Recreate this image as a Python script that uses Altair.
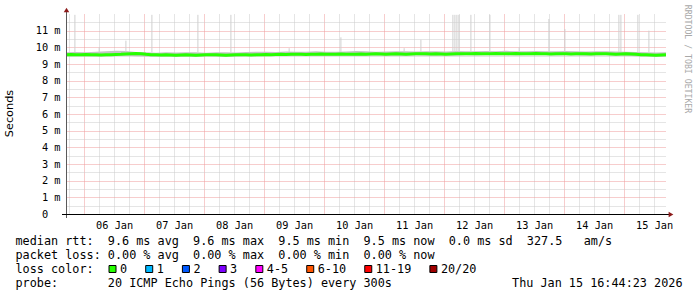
import json
import altair as alt
import pandas as pd

# ---------------- data ----------------
# time axis: hours after 2026-01-05 00:00; graph spans 10 days ending Jan 15 16:44
T_END = 256.74
T_START = T_END - 240.0

# median RTT (ms), one reading every 2 h from T_START
median_ms = [
    9.56, 9.57, 9.55, 9.56, 9.57, 9.56, 9.55, 9.54, 9.55, 9.56,
    9.57, 9.58, 9.60, 9.62, 9.63, 9.61, 9.58, 9.56, 9.55, 9.54,
    9.55, 9.54, 9.53, 9.54, 9.55, 9.54, 9.53, 9.54, 9.55, 9.56,
    9.55, 9.54, 9.53, 9.54, 9.55, 9.56, 9.55, 9.54, 9.55, 9.56,
    9.57, 9.56, 9.57, 9.58, 9.57, 9.58, 9.59, 9.58, 9.57, 9.58,
    9.59, 9.60, 9.59, 9.58, 9.59, 9.60, 9.59, 9.58, 9.59, 9.60,
    9.59, 9.60, 9.61, 9.60, 9.59, 9.60, 9.61, 9.60, 9.59, 9.60,
    9.61, 9.62, 9.61, 9.60, 9.61, 9.60, 9.59, 9.60, 9.61, 9.62,
    9.61, 9.62, 9.63, 9.62, 9.61, 9.62, 9.63, 9.62, 9.61, 9.62,
    9.63, 9.62, 9.61, 9.62, 9.63, 9.62, 9.61, 9.60, 9.61, 9.62,
    9.61, 9.60, 9.61, 9.62, 9.61, 9.60, 9.61, 9.62, 9.61, 9.60,
    9.59, 9.60, 9.61, 9.60, 9.58, 9.56, 9.55, 9.54, 9.53, 9.54,
    9.55,
]

# smoke band (ms), one reading every 4 h from T_START
smoke_lo = [
    9.46, 9.47, 9.46, 9.45, 9.47, 9.48, 9.50, 9.47, 9.45, 9.44,
    9.45, 9.44, 9.45, 9.44, 9.46, 9.45, 9.44, 9.45, 9.47, 9.46,
    9.48, 9.49, 9.48, 9.50, 9.49, 9.50, 9.49, 9.50, 9.51, 9.50,
    9.50, 9.51, 9.50, 9.49, 9.50, 9.51, 9.50, 9.49, 9.51, 9.50,
    9.52, 9.51, 9.52, 9.53, 9.52, 9.51, 9.52, 9.53, 9.52, 9.51,
    9.52, 9.51, 9.50, 9.51, 9.52, 9.50, 9.49, 9.47, 9.45, 9.44,
    9.45,
]
smoke_hi = [
    9.70, 9.72, 9.71, 9.74, 9.76, 9.80, 9.78, 9.72, 9.70, 9.68,
    9.70, 9.69, 9.71, 9.70, 9.68, 9.70, 9.71, 9.69, 9.72, 9.73,
    9.74, 9.72, 9.75, 9.74, 9.73, 9.76, 9.74, 9.73, 9.75, 9.78,
    9.76, 9.74, 9.75, 9.77, 9.76, 9.75, 9.77, 9.76, 9.75, 9.78,
    9.77, 9.76, 9.78, 9.77, 9.79, 9.76, 9.77, 9.78, 9.76, 9.77,
    9.78, 9.76, 9.75, 9.77, 9.76, 9.75, 9.74, 9.72, 9.70, 9.69,
    9.70,
]

# individual slow pings (hours, ms)
spike_hours = [20.3, 30.0, 40.7, 51.1, 69.5, 82.7, 106.0, 126.7, 152.0, 158.7,
               171.5, 172.3, 173.1, 173.9, 178.7, 186.3, 198.0, 209.9,
               216.3, 237.9, 238.7, 245.5, 249.9]
spike_top_ms = [11.95, 10.0, 10.4, 11.95, 11.95, 11.95, 9.95, 10.6, 9.95, 10.45,
                11.95, 11.95, 11.95, 11.95, 11.95, 11.95, 10.0, 11.7,
                11.1, 11.95, 11.95, 11.95, 11.0]

day_labels = ["06 Jan", "07 Jan", "08 Jan", "09 Jan", "10 Jan",
              "11 Jan", "12 Jan", "13 Jan", "14 Jan", "15 Jan"]
y_tick_labels = ["0", "1 m", "2 m", "3 m", "4 m", "5 m", "6 m",
                 "7 m", "8 m", "9 m", "10 m", "11 m"]

legend_lines = [
    "median rtt:  9.6 ms avg  9.6 ms max  9.5 ms min  9.5 ms now  0.0 ms sd  327.5   am/s",
    "packet loss: 0.00 % avg  0.00 % max  0.00 % min  0.00 % now",
    "loss color:",
    "probe:       20 ICMP Echo Pings (56 Bytes) every 300s",
]
loss_labels = ["0", "1", "2", "3", "4-5", "6-10", "11-19", "20/20"]
loss_colors = ["#26ff00", "#00b8ff", "#0059ff", "#7e00ff",
               "#ff00ff", "#ff5500", "#ff0000", "#a00000"]
timestamp = "Thu Jan 15 16:44:23 2026"
y_title = "Seconds"
watermark = "RRDTOOL / TOBI OETIKER"

# ---------------- styling ----------------
MONO = "DejaVu Sans Mono"
SANS = "DejaVu Sans"
FS_LEG = 11.8
FS_AX = 10.3
CW = FS_LEG * 0.6021      # monospace advance (legend)
CWA = FS_AX * 0.6021      # monospace advance (axis)
W, H = 600, 200
OX, OY = 66, 14            # plot origin in page pixels
NB = "\u00a0"


def nb(s):
    return s.replace(" ", NB)


xs = alt.Scale(domain=[T_START, T_END], nice=False, zero=False)
ys = alt.Scale(domain=[0, 12], nice=False, zero=False)

grid_x_vals = list(range(18, 257, 6))
grid_y_vals = [i * 0.5 for i in range(0, 24)]

MAJOR = "#ee9a9a"
MINOR = "#cacaca"

x_axis = alt.Axis(
    values=grid_x_vals,
    labelExpr=f"datum.value % 24 == 12 ? {json.dumps(day_labels)}[floor(datum.value/24)-1] : ''",
    grid=True,
    gridColor={"condition": {"test": "datum.value % 24 == 0", "value": MAJOR}, "value": MINOR},
    gridDash=[1, 1],
    gridWidth=1,
    domain=False, ticks=False, title=None,
    labelFont=MONO, labelFontSize=FS_AX, labelColor="#000000",
    labelAngle=0, labelPadding=14.5, labelBaseline="alphabetic",
    labelOverlap=False, labelFlush=False, labelBound=False,
)
y_axis = alt.Axis(
    values=grid_y_vals,
    labelExpr=f"datum.value % 1 == 0 ? {json.dumps(y_tick_labels)}[datum.value] : ''",
    grid=True,
    gridColor={"condition": {"test": "datum.value % 1 == 0", "value": MAJOR}, "value": MINOR},
    gridDash=[1, 1],
    gridWidth=1,
    domain=False, ticks=False, title=None,
    labelFont=MONO, labelFontSize=FS_AX, labelColor="#000000",
    labelPadding={"condition": {"test": "datum.value == 0", "value": 6 + 2 * CWA}, "value": 6},
    labelBaseline="middle", labelAlign="right",
    labelOverlap=False, labelFlush=False, labelBound=False,
)

df_med = pd.DataFrame({"t": [T_START + 2 * i for i in range(len(median_ms))], "ms": median_ms})
df_smoke = pd.DataFrame({"t": [T_START + 4 * i for i in range(len(smoke_lo))],
                         "lo": smoke_lo, "hi": smoke_hi})
df_spk = pd.DataFrame({"t": spike_hours, "top": spike_top_ms})
one = pd.DataFrame({"k": [0]})

smoke = alt.Chart(df_smoke).mark_area(color="#c4c4c4").encode(
    x=alt.X("t:Q", scale=xs, axis=x_axis),
    y=alt.Y("lo:Q", scale=ys, axis=y_axis),
    y2="hi:Q",
)
spikes = alt.Chart(df_spk).mark_rule(color="#cfcfcf", strokeWidth=1).encode(
    x=alt.X("t:Q", scale=xs, axis=x_axis),
    y=alt.Y("top:Q", scale=ys, axis=y_axis),
    y2=alt.datum(9.7),
)
median = alt.Chart(df_med).mark_line(color=loss_colors[0], strokeWidth=3).encode(
    x=alt.X("t:Q", scale=xs, axis=x_axis),
    y=alt.Y("ms:Q", scale=ys, axis=y_axis),
)

layers = [smoke, spikes, median]

# axis lines + arrows
layers.append(alt.Chart(one).mark_rule(color="#5a5a5a", strokeWidth=1).encode(
    x=alt.value(0.5), y=alt.value(-3), y2=alt.value(204)))
layers.append(alt.Chart(one).mark_rule(color="#000000", strokeWidth=1).encode(
    x=alt.value(-4), x2=alt.value(603), y=alt.value(200.5)))
layers.append(alt.Chart(one).mark_point(shape="triangle-up", filled=True, size=30,
                                        color="#8c1a1a", opacity=1).encode(
    x=alt.value(0.5), y=alt.value(-4)))
layers.append(alt.Chart(one).mark_point(shape="triangle-right", filled=True, size=30,
                                        color="#8c1a1a", opacity=1).encode(
    x=alt.value(605), y=alt.value(200.5)))


def txt(s, x, y, align="left", baseline="alphabetic", font=MONO, size=FS_LEG,
        color="#000000", angle=0):
    return alt.Chart(pd.DataFrame({"s": [nb(s)]})).mark_text(
        align=align, baseline=baseline, font=font, fontSize=size, color=color,
        angle=angle).encode(x=alt.value(x), y=alt.value(y), text="s:N")


# legend text rows
row_base = [244.5 - OY + 14 * i for i in range(4)]
x_left = 15.5 - OX
for i, line in enumerate(legend_lines):
    layers.append(txt(line, x_left, row_base[i]))
layers.append(txt(timestamp, 682.5 - OX, row_base[3], align="right"))

# loss colour boxes
bx = 108.5
for lab, col in zip(loss_labels, loss_colors):
    layers.append(alt.Chart(one).mark_rect(color=col, stroke="#000000", strokeWidth=1).encode(
        x=alt.value(bx - OX + 0.5), x2=alt.value(bx - OX + 7.5),
        y=alt.value(265.5 - OY), y2=alt.value(272.5 - OY)))
    layers.append(txt(lab, bx - OX + 11.5, row_base[2]))
    bx = bx + 11.5 + len(lab) * CW + 18.1

# y title and watermark
layers.append(txt(y_title, 10 - OX, 113.5 - OY, align="center", baseline="middle",
                  font=SANS, size=11.3, angle=270))
layers.append(txt(watermark, 686.5 - OX, 59 - OY, align="center", baseline="middle",
                  size=8.2, color="#a8a8a8", angle=90))

chart = alt.layer(*layers).properties(
    width=W, height=H,
    autosize=alt.AutoSizeParams(type="none"),
    padding={"left": OX, "top": OY, "right": 697 - OX - W, "bottom": 297 - OY - H},
    background="#ffffff",
).configure_view(stroke=None)

chart.save("out.html", embed_options={"renderer": "svg", "actions": False})
